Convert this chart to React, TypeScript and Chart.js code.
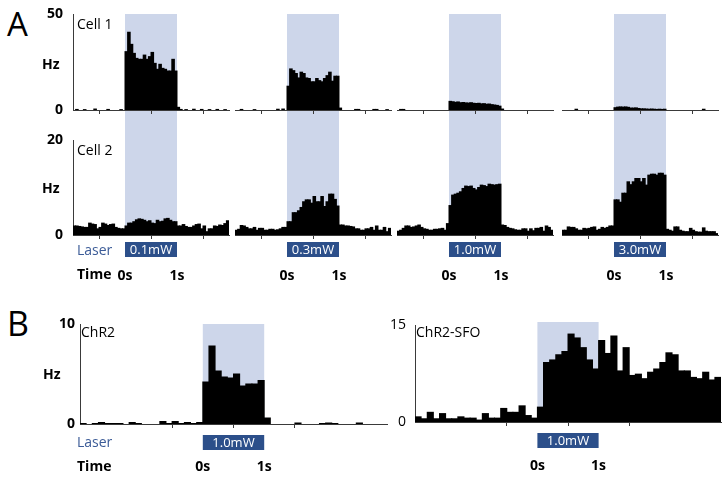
import React, { useEffect, useRef } from "react";
import { Chart, registerables } from "chart.js";

Chart.register(...registerables);

const FONT_FAMILY = "'Open Sans', 'Noto Sans', 'DejaVu Sans', sans-serif";
Chart.defaults.font.family = FONT_FAMILY;

// ---------------- data ----------------
// Panel A: 50 ms bins from -1 s to 2 s (20 pre, 20 during laser, 20 post)
const A_BIN_WIDTH = 0.05;
const A_START = -1;
const A_END = 2;

const cell1_0p1mW = [
  0, 0.3, 0, 0, 0.2, 0, 0, 0, 0.5, 0, 0, 0, 0, 0.3, 0, 0, 0, 0, 0.2, 0,
  30.4, 40.5, 34.2, 29.5, 26.9, 26.4, 26.4, 28.6, 26.4, 27.8, 30, 24.3, 21.2, 23.8, 21.7, 21.2, 20.3, 20.3, 26.4, 20.3,
  1.4, 0.3, 0, 0.2, 0, 0, 0.4, 0, 0, 0.3, 0, 0, 0.2, 0, 0, 0.3, 0, 0, 0.2, 0,
];
const cell1_0p3mW = [
  0, 0, 0.3, 0, 0, 0, 0, 0.2, 0, 0, 0, 0, 0, 0, 0, 0, 0.4, 0, 0.5, 0,
  12.4, 21.4, 20.5, 19, 16.7, 19.7, 19, 16.7, 16.4, 14.7, 14.7, 16.4, 15.3, 14.7, 16.4, 17.9, 19.7, 15, 17.6, 17.6,
  1.0, 0, 0, 0, 0, 0, 0.3, 0.3, 0, 0, 0, 0, 0, 0.3, 0.3, 0, 0, 0, 0.2, 0,
];
const cell1_1p0mW = [
  0, 0.3, 0.3, 0, 0, 0, 0, 0, 0, 0, 0, 0, 0, 0, 0, 0, 0, 0, 0, 0,
  4.5, 4.3, 4.0, 4.2, 3.8, 3.9, 3.7, 3.6, 3.8, 3.5, 3.4, 3.5, 3.2, 3.3, 3.0, 3.1, 2.8, 2.6, 2.4, 2.0,
  0.5, 0, 0, 0, 0, 0, 0, 0, 0, 0, 0, 0, 0, 0, 0, 0, 0, 0, 0, 0,
];
const cell1_3p0mW = [
  0, 0, 0, 0, 0, 0.4, 0, 0, 0, 0, 0, 0, 0, 0, 0, 0, 0, 0, 0, 0,
  1.2, 1.5, 1.6, 1.5, 1.6, 1.4, 1.0, 1.0, 1.1, 0.8, 0.6, 0.6, 0.5, 0.4, 0.5, 0.4, 0.3, 0.4, 0.3, 0.4,
  0, 0, 0, 0, 0, 0, 0, 0, 0, 0, 0, 0, 0, 0, 0.4, 0, 0, 0, 0, 0,
];

const cell2_0p1mW = [
  1.9, 1.9, 1.8, 1.7, 1.6, 1.6, 2.5, 2.3, 2.2, 1.3, 1.6, 2.5, 2.3, 2.0, 2.2, 2.3, 1.6, 1.4, 1.3, 1.3,
  1.9, 2.5, 2.5, 2.8, 3.2, 3.4, 3.3, 3.1, 2.8, 3.0, 2.5, 2.4, 3.1, 2.8, 2.9, 3.4, 3.5, 3.1, 2.8, 2.8,
  1.9, 1.9, 2.2, 1.8, 1.6, 1.6, 1.9, 2.2, 2.3, 1.3, 1.9, 0.7, 1.3, 1.3, 1.9, 1.8, 2.1, 2.0, 2.4, 3.0,
];
const cell2_0p3mW = [
  1.0, 1.2, 2.0, 1.9, 1.6, 1.3, 1.3, 1.6, 1.0, 1.4, 1.4, 1.0, 1.0, 1.2, 1.2, 1.0, 1.1, 1.3, 1.6, 1.6,
  2.8, 2.8, 4.7, 4.7, 5.1, 5.8, 7.0, 7.4, 7.4, 6.7, 8.1, 7.0, 7.0, 8.1, 6.0, 7.0, 8.6, 8.6, 7.5, 6.1,
  2.1, 2.1, 1.9, 1.9, 1.8, 1.7, 1.3, 1.3, 1.0, 1.0, 1.3, 1.3, 1.6, 1.0, 1.9, 1.0, 1.0, 1.6, 0.7, 1.4,
];
const cell2_1p0mW = [
  0.8, 1.0, 1.4, 1.9, 1.9, 1.6, 1.7, 1.9, 2.1, 1.6, 1.3, 1.2, 1.0, 1.0, 1.2, 1.2, 1.3, 1.4, 1.0, 2.4,
  6.2, 8.4, 8.6, 8.8, 9.1, 9.8, 10.3, 10.2, 10.3, 9.8, 9.5, 10.0, 10.5, 10.4, 10.2, 10.7, 10.6, 10.5, 10.6, 10.7,
  2.1, 2.0, 1.6, 1.4, 1.3, 1.1, 1.0, 1.0, 1.3, 1.3, 0.8, 1.3, 0.9, 1.4, 1.4, 1.6, 0.8, 1.9, 1.6, 1.0,
];
const cell2_3p0mW = [
  1.0, 1.0, 1.7, 1.6, 1.6, 1.3, 1.0, 1.0, 1.4, 1.3, 1.4, 1.6, 1.7, 1.0, 1.2, 1.6, 1.4, 1.6, 1.9, 1.9,
  7.4, 7.4, 6.9, 8.8, 8.8, 11.2, 10.6, 11.2, 11.9, 11.9, 11.2, 11.9, 10.5, 12.6, 12.8, 12.8, 12.6, 13.0, 13.0, 12.6,
  1.2, 1.0, 0.8, 1.7, 1.7, 1.0, 0.8, 0.7, 0.7, 1.4, 1.0, 0.7, 0.6, 0.6, 1.5, 0.8, 0.7, 0.7, 0.7, 0.3,
];

const laserPowers = ["0.1mW", "0.3mW", "1.0mW", "3.0mW"];
const cell1Series = [cell1_0p1mW, cell1_0p3mW, cell1_1p0mW, cell1_3p0mW];
const cell2Series = [cell2_0p1mW, cell2_0p3mW, cell2_1p0mW, cell2_3p0mW];
const CELL1_MAX_HZ = 50;
const CELL2_MAX_HZ = 20;

// Panel B: 100 ms bins from -2 s to 3 s (20 pre, 10 during laser, 20 post)
const B_BIN_WIDTH = 0.1;
const B_START = -2;
const B_END = 3;
const chr2 = [
  0.05, 0, 0.05, 0.15, 0.05, 0.05, 0.05, 0, 0.15, 0.05, 0, 0, 0, 0.25, 0.05, 0.25, 0.05, 0.15, 0.05, 0.15,
  4.2, 7.8, 5.3, 4.7, 4.6, 5.0, 3.8, 4.0, 4.0, 4.35,
  0.6, 0, 0, 0, 0, 0.1, 0, 0, 0, 0.05, 0.1, 0.05, 0, 0, 0, 0.1, 0, 0, 0, 0,
];
const chr2Sfo = [
  0.8, 0.5, 1.5, 0.5, 1.3, 0.5, 0.5, 0.8, 0.6, 0.6, 0.3, 1.3, 0.6, 0.6, 2.1, 1.5, 1.5, 2.5, 1.0, 0.6,
  2.3, 9.2, 9.6, 10.4, 10.9, 13.6, 13.0, 11.5, 9.6, 8.2,
  12.6, 10.6, 13.3, 7.9, 11.5, 7.2, 7.4, 6.7, 7.7, 8.2, 9.2, 10.7, 10.4, 7.9, 7.9, 6.9, 6.7, 7.7, 6.5, 6.9,
];
const CHR2_MAX_HZ = 10;
const SFO_MAX_HZ = 15;
const SFO_LASER = "1.0mW";
const CHR2_LASER = "1.0mW";

const STIM_ON = 0;
const STIM_OFF = 1;
const timeTickLabels = ["0s", "1s"];

// ---------------- styles ----------------
const BAR_COLOR = "#000000";
const BAND_COLOR = "#cdd6ea";
const LASER_BOX = "#2c4f8a";
const LASER_TEXT = "#3b5b97";
const AXIS_COLOR = "#3a3a3a";

type AxisSpec = { width: number; padding: number; bold: boolean };
type HistSpec = {
  values: number[];
  start: number;
  binWidth: number;
  xMin: number;
  xMax: number;
  yMax: number;
  area: { left: number; top: number; width: number; height: number };
  canvas: { left: number; top: number; right: number; bottom: number };
  yAxis: AxisSpec | null;
  xLabels: { padding: number } | null;
  band: { fromY: number | null; toY: number | null; topExtra: number };
  laser: { label: string; offset: number; height: number } | null;
};

const bandPlugin = {
  id: "stimBand",
  beforeDraw(chart: any, _args: any, opts: any) {
    const { ctx, chartArea, scales } = chart;
    const x = scales.x;
    const x0 = x.getPixelForValue(STIM_ON);
    const x1 = x.getPixelForValue(STIM_OFF);
    const top = opts.fromY !== null && opts.fromY !== undefined ? opts.fromY : chartArea.top - (opts.topExtra || 0);
    const bottom = opts.toY !== null && opts.toY !== undefined ? opts.toY : chartArea.bottom;
    ctx.save();
    ctx.fillStyle = BAND_COLOR;
    ctx.fillRect(x0, top, x1 - x0, bottom - top);
    if (opts.laserLabel) {
      const y0 = chartArea.bottom + opts.laserOffset;
      ctx.fillStyle = LASER_BOX;
      ctx.fillRect(x0, y0, x1 - x0, opts.laserHeight);
      ctx.fillStyle = "#ffffff";
      ctx.font = `13px ${FONT_FAMILY}`;
      ctx.textAlign = "center";
      ctx.textBaseline = "middle";
      ctx.fillText(opts.laserLabel, (x0 + x1) / 2, y0 + opts.laserHeight / 2 + 0.5);
    }
    ctx.restore();
  },
};

function Histogram({ spec }: { spec: HistSpec }) {
  const ref = useRef<HTMLCanvasElement>(null);
  const w = spec.canvas.right - spec.canvas.left;
  const h = spec.canvas.bottom - spec.canvas.top;
  useEffect(() => {
    const s = spec;
    const yW = s.yAxis ? s.yAxis.width : 0;
    const areaRight = s.area.left + s.area.width;
    const areaBottom = s.area.top + s.area.height;
    const xAxisHeight = s.canvas.bottom - areaBottom;
    const points = s.values.map((v, i) => ({
      x: s.start + (i + 0.5) * s.binWidth,
      y: v === 0 ? null : v,
    }));
    const chart = new Chart(ref.current as HTMLCanvasElement, {
      type: "bar",
      data: {
        datasets: [
          {
            data: points as any,
            backgroundColor: BAR_COLOR,
            borderWidth: 0,
            barPercentage: 1,
            categoryPercentage: 1,
            inflateAmount: 0.5,
          } as any,
        ],
      },
      options: {
        animation: false,
        responsive: false,
        maintainAspectRatio: false,
        devicePixelRatio: 1,
        events: [],
        layout: {
          padding: {
            left: s.area.left - s.canvas.left - yW,
            top: s.area.top - s.canvas.top,
            right: s.canvas.right - areaRight,
            bottom: 0,
          },
        },
        plugins: {
          legend: { display: false },
          tooltip: { enabled: false },
          stimBand: {
            fromY: s.band.fromY === null ? null : s.band.fromY - s.canvas.top,
            toY: s.band.toY === null ? null : s.band.toY - s.canvas.top,
            topExtra: s.band.topExtra,
            laserLabel: s.laser ? s.laser.label : "",
            laserOffset: s.laser ? s.laser.offset : 0,
            laserHeight: s.laser ? s.laser.height : 0,
          },
        } as any,
        scales: {
          x: {
            type: "linear",
            min: s.xMin,
            max: s.xMax,
            offset: false,
            afterBuildTicks: (scale: any) => {
              scale.ticks = [{ value: STIM_ON }, { value: STIM_OFF }];
            },
            afterFit: (scale: any) => {
              scale.height = xAxisHeight;
            },
            grid: {
              display: true,
              drawOnChartArea: false,
              drawTicks: true,
              tickLength: 4,
              color: AXIS_COLOR,
              lineWidth: 1,
            },
            border: { display: true, color: AXIS_COLOR, width: 1 },
            ticks: {
              display: !!s.xLabels,
              padding: s.xLabels ? s.xLabels.padding : 0,
              color: "#000",
              autoSkip: false,
              maxRotation: 0,
              font: { family: FONT_FAMILY, size: 14, weight: "bold" },
              callback: (_v: any, i: number) => timeTickLabels[i],
            },
          },
          y: {
            type: "linear",
            display: !!s.yAxis,
            min: 0,
            max: s.yMax,
            afterBuildTicks: (scale: any) => {
              scale.ticks = [{ value: 0 }, { value: s.yMax }];
            },
            afterFit: (scale: any) => {
              scale.width = yW;
            },
            grid: { display: false, drawTicks: false },
            border: { display: true, color: AXIS_COLOR, width: 1 },
            ticks: {
              padding: s.yAxis ? s.yAxis.padding : 0,
              color: "#000",
              font: {
                family: FONT_FAMILY,
                size: 14,
                weight: s.yAxis && s.yAxis.bold ? "bold" : "normal",
              },
              callback: (v: any) => String(v),
            },
          },
        } as any,
      },
      plugins: [bandPlugin],
    });
    return () => chart.destroy();
  }, [spec]);
  return (
    <canvas
      ref={ref}
      width={w}
      height={h}
      style={{ position: "absolute", left: spec.canvas.left, top: spec.canvas.top, width: w, height: h }}
    />
  );
}

// ---------------- layout ----------------
const A_COL_LEFT = [73, 235, 397, 562];
const A_COL_WIDTH = 156;
const A_ROW_SPLIT = 125; // where the laser band passes from row 1 to row 2

const specs: HistSpec[] = [];
A_COL_LEFT.forEach((left, c) => {
  specs.push({
    values: cell1Series[c],
    start: A_START,
    binWidth: A_BIN_WIDTH,
    xMin: A_START,
    xMax: A_END,
    yMax: CELL1_MAX_HZ,
    area: { left, top: 14, width: A_COL_WIDTH, height: 96 },
    canvas: { left: c === 0 ? 30 : left - 4, top: -8, right: left + A_COL_WIDTH + 4, bottom: 132 },
    yAxis: c === 0 ? { width: 43, padding: 10, bold: true } : null,
    xLabels: null,
    band: { fromY: null, toY: A_ROW_SPLIT, topExtra: 0 },
    laser: null,
  });
  specs.push({
    values: cell2Series[c],
    start: A_START,
    binWidth: A_BIN_WIDTH,
    xMin: A_START,
    xMax: A_END,
    yMax: CELL2_MAX_HZ,
    area: { left, top: 140, width: A_COL_WIDTH, height: 95 },
    canvas: { left: c === 0 ? 30 : left - 4, top: 118, right: left + A_COL_WIDTH + 4, bottom: 295 },
    yAxis: c === 0 ? { width: 43, padding: 10, bold: true } : null,
    xLabels: { padding: 29 },
    band: { fromY: A_ROW_SPLIT, toY: null, topExtra: 0 },
    laser: { label: laserPowers[c], offset: 7, height: 15 },
  });
});
specs.push({
  values: chr2,
  start: B_START,
  binWidth: B_BIN_WIDTH,
  xMin: B_START,
  xMax: B_END,
  yMax: CHR2_MAX_HZ,
  area: { left: 80, top: 324, width: 307, height: 100 },
  canvas: { left: 37, top: 300, right: 391, bottom: 480 },
  yAxis: { width: 43, padding: 5, bold: true },
  xLabels: { padding: 31 },
  band: { fromY: null, toY: null, topExtra: 0 },
  laser: { label: CHR2_LASER, offset: 11, height: 15 },
});
specs.push({
  values: chr2Sfo,
  start: B_START,
  binWidth: B_BIN_WIDTH,
  xMin: B_START,
  xMax: B_END,
  yMax: SFO_MAX_HZ,
  area: { left: 415, top: 325, width: 306, height: 97 },
  canvas: { left: 375, top: 300, right: 724, bottom: 480 },
  yAxis: { width: 40, padding: 9, bold: false },
  xLabels: { padding: 32 },
  band: { fromY: null, toY: null, topExtra: 3 },
  laser: { label: SFO_LASER, offset: 11, height: 15 },
});

type TextSpec = { t: string; x: number; cy: number; size: number; bold?: boolean; color?: string };
const texts: TextSpec[] = [
  { t: "A", x: 7, cy: 24, size: 33 },
  { t: "Cell 1", x: 77, cy: 24, size: 14 },
  { t: "Hz", x: 42, cy: 64, size: 14, bold: true },
  { t: "Cell 2", x: 77, cy: 150, size: 14 },
  { t: "Hz", x: 42, cy: 188, size: 14, bold: true },
  { t: "Laser", x: 77, cy: 250, size: 14, color: LASER_TEXT },
  { t: "Time", x: 77, cy: 274, size: 14, bold: true },
  { t: "B", x: 7, cy: 324, size: 34 },
  { t: "ChR2", x: 81, cy: 332, size: 14 },
  { t: "Hz", x: 43, cy: 374, size: 14, bold: true },
  { t: "Laser", x: 77, cy: 442, size: 14, color: LASER_TEXT },
  { t: "Time", x: 77, cy: 466, size: 14, bold: true },
  { t: "ChR2-SFO", x: 416, cy: 332, size: 14 },
];

export default function App() {
  return (
    <div
      style={{
        position: "absolute",
        left: 0,
        top: 0,
        width: 726,
        height: 480,
        background: "#fff",
        overflow: "hidden",
        fontFamily: FONT_FAMILY,
      }}
    >
      {specs.map((s, i) => (
        <Histogram key={i} spec={s} />
      ))}
      {texts.map((tx, i) => (
        <div
          key={"t" + i}
          style={{
            position: "absolute",
            left: tx.x,
            top: tx.cy - 0.53 * tx.size,
            fontSize: tx.size,
            lineHeight: `${tx.size}px`,
            fontWeight: tx.bold ? 700 : 400,
            color: tx.color || "#000",
            whiteSpace: "nowrap",
          }}
        >
          {tx.t}
        </div>
      ))}
    </div>
  );
}
